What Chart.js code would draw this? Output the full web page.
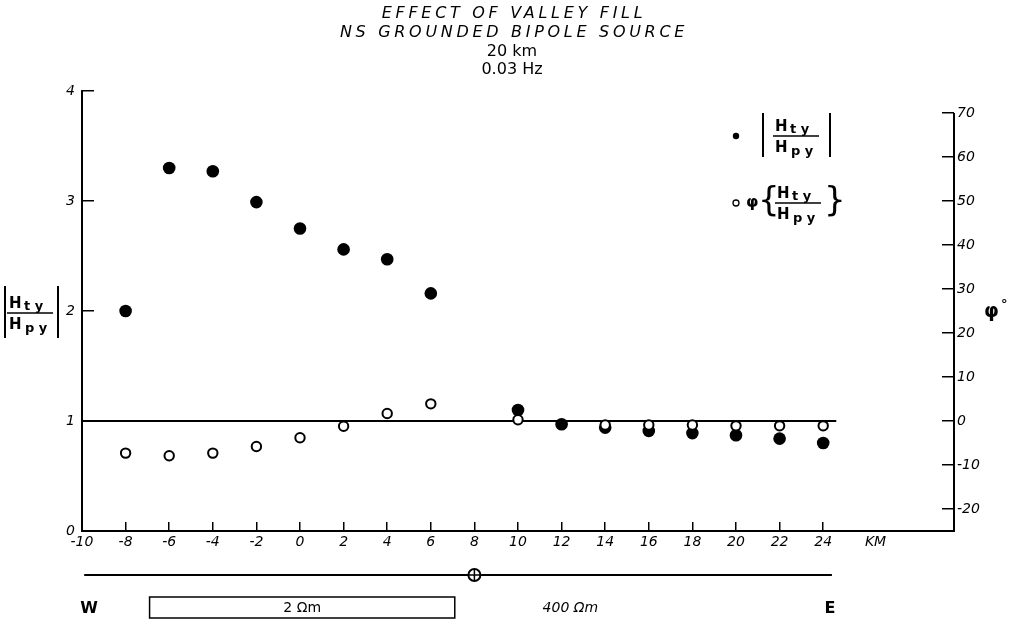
<!DOCTYPE html>
<html>
<head>
<meta charset="utf-8">
<script src="https://cdn.jsdelivr.net/npm/chart.js@4.4.1/dist/chart.umd.min.js"></script>
<style>
html,body{margin:0;padding:0;background:#fff;}
#wrap{width:1019px;height:625px;position:relative;}
</style>
</head>
<body>
<div id="wrap"><canvas id="c" width="1019" height="625"></canvas></div>
<script>
// ---- data ----
const titleLines = ['EFFECT OF VALLEY FILL', 'NS GROUNDED BIPOLE SOURCE', '20 km', '0.03 Hz'];
const distanceKm = [-8, -6, -4, -2, 0, 2, 4, 6, 10, 12, 14, 16, 18, 20, 22, 24];
const amplitudeRatio = [2.00, 3.30, 3.27, 2.99, 2.75, 2.56, 2.47, 2.16, 1.10, 0.97, 0.94, 0.91, 0.89, 0.87, 0.84, 0.80];
// phase at 12 km is hidden behind the amplitude point in the original
const phaseDeg = [-7.3, -7.9, -7.3, -5.8, -3.8, -1.2, 1.7, 3.9, 0.3, null, -0.9, -0.9, -0.9, -1.1, -1.1, -1.1];
const xTickValues = [-10, -8, -6, -4, -2, 0, 2, 4, 6, 8, 10, 12, 14, 16, 18, 20, 22, 24];
const xUnitLabel = 'KM';
const xUnitPos = 26.4;
const leftTickValues = [0, 1, 2, 3, 4];
const rightTickValues = [-20, -10, 0, 10, 20, 30, 40, 50, 60, 70];
const unityLineKm = [-10, 24.6];
const unityRatio = 1;
const sourceKm = 8;
const schematicKm = [-9.9, 24.4];
const valleyFillKm = [-6.9, 7.1];
const valleyLabel = '2 Ωm';
const hostLabel = '400 Ωm';
const hostLabelKm = 12.4;
const westLabel = 'W';
const eastLabel = 'E';

// ---- helpers ----
const BLACK = '#000';
function drawFraction(ctx, cx, cy) {
  ctx.save();
  ctx.fillStyle = BLACK; ctx.strokeStyle = BLACK;
  ctx.textBaseline = 'alphabetic';
  ctx.textAlign = 'left';
  const big = 'bold 15px "DejaVu Sans"', small = 'bold 13px "DejaVu Sans"';
  ctx.font = big; ctx.fillText('H', cx - 22, cy - 5);
  ctx.font = small; ctx.fillText('t y', cx - 7, cy - 3);
  ctx.font = big; ctx.fillText('H', cx - 22, cy + 16);
  ctx.font = small; ctx.fillText('p y', cx - 6, cy + 19);
  ctx.lineWidth = 1.5;
  ctx.beginPath(); ctx.moveTo(cx - 24, cy); ctx.lineTo(cx + 22, cy); ctx.stroke();
  ctx.restore();
}

const decorPlugin = {
  id: 'decor',
  afterDraw(chart) {
    const ctx = chart.ctx;
    const xs = chart.scales.x, yr = chart.scales.y2;
    const area = chart.chartArea;
    ctx.save();
    ctx.fillStyle = BLACK; ctx.strokeStyle = BLACK;

    // right axis line from top tick down to bottom
    ctx.lineWidth = 2;
    ctx.beginPath();
    ctx.moveTo(area.right, yr.getPixelForValue(rightTickValues[rightTickValues.length - 1]));
    ctx.lineTo(area.right, area.bottom + 1);
    ctx.stroke();

    // title
    ctx.textAlign = 'center';
    ctx.textBaseline = 'middle';
    const cx = 512;
    ctx.font = 'italic 16px "DejaVu Sans"';
    ctx.letterSpacing = '3.7px';
    ctx.fillText(titleLines[0], cx + 2, 14);
    ctx.fillText(titleLines[1], cx + 2, 33);
    ctx.letterSpacing = '0px';
    ctx.font = '16px "DejaVu Sans"';
    ctx.fillText(titleLines[2], cx, 52);
    ctx.fillText(titleLines[3], cx, 70);

    // left axis title |H_ty/H_py|
    const lx = 31, ly = 313;
    drawFraction(ctx, lx, ly);
    ctx.lineWidth = 2;
    ctx.beginPath();
    ctx.moveTo(5, ly - 27); ctx.lineTo(5, ly + 25);
    ctx.moveTo(58, ly - 27); ctx.lineTo(58, ly + 25);
    ctx.stroke();

    // right axis title
    ctx.textAlign = 'left';
    ctx.textBaseline = 'middle';
    ctx.font = 'bold 19px "DejaVu Sans"';
    ctx.fillText('φ', 984, 312);
    ctx.font = 'bold 13px "DejaVu Sans"';
    ctx.fillText('°', 1001, 305);

    // legend
    ctx.beginPath(); ctx.arc(736, 136, 3.2, 0, Math.PI * 2); ctx.fill();
    drawFraction(ctx, 797, 136);
    ctx.lineWidth = 2;
    ctx.beginPath();
    ctx.moveTo(763, 113); ctx.lineTo(763, 157);
    ctx.moveTo(830, 113); ctx.lineTo(830, 157);
    ctx.stroke();

    ctx.lineWidth = 1.3;
    ctx.beginPath(); ctx.arc(736, 203, 3, 0, Math.PI * 2); ctx.stroke();
    ctx.font = 'bold 16px "DejaVu Sans"';
    ctx.textAlign = 'left';
    ctx.fillText('φ', 746, 203);
    ctx.font = '34px "DejaVu Sans"';
    ctx.fillText('{', 758, 202);
    ctx.fillText('}', 824, 202);
    drawFraction(ctx, 799, 203);

    // schematic below axis
    const yLine = 575;
    ctx.lineWidth = 2;
    ctx.beginPath();
    ctx.moveTo(xs.getPixelForValue(schematicKm[0]), yLine);
    ctx.lineTo(xs.getPixelForValue(schematicKm[1]), yLine);
    ctx.stroke();
    const sx = xs.getPixelForValue(sourceKm);
    ctx.fillStyle = '#fff';
    ctx.beginPath(); ctx.arc(sx, yLine, 6, 0, Math.PI * 2); ctx.fill(); ctx.stroke();
    ctx.lineWidth = 1.5;
    ctx.beginPath();
    ctx.moveTo(sx, yLine - 6); ctx.lineTo(sx, yLine + 6);
    ctx.moveTo(sx - 6, yLine); ctx.lineTo(sx + 6, yLine);
    ctx.stroke();
    ctx.fillStyle = BLACK;

    const bx0 = xs.getPixelForValue(valleyFillKm[0]);
    const bx1 = xs.getPixelForValue(valleyFillKm[1]);
    ctx.lineWidth = 1.5;
    ctx.strokeRect(bx0, 597, bx1 - bx0, 21);
    ctx.textAlign = 'center';
    ctx.textBaseline = 'middle';
    ctx.font = '14px "DejaVu Sans"';
    ctx.fillText(valleyLabel, (bx0 + bx1) / 2, 608);
    ctx.font = 'italic 14px "DejaVu Sans"';
    ctx.fillText(hostLabel, xs.getPixelForValue(hostLabelKm), 608);
    ctx.font = 'bold 16px "DejaVu Sans"';
    ctx.fillText(westLabel, 89, 609);
    ctx.fillText(eastLabel, 830, 609);
    ctx.restore();
  }
};

const axisFont = { family: '"DejaVu Sans"', size: 14, style: 'italic' };

const chart = new Chart(document.getElementById('c'), {
  type: 'scatter',
  data: {
    datasets: [
      {
        label: 'unity',
        data: unityLineKm.map(x => ({ x, y: unityRatio })),
        showLine: true,
        borderColor: BLACK,
        borderWidth: 2,
        pointRadius: 0,
        yAxisID: 'y',
        order: 3
      },
      {
        label: '|Hty/Hpy|',
        data: distanceKm.map((x, i) => ({ x, y: amplitudeRatio[i] })),
        backgroundColor: BLACK,
        borderColor: BLACK,
        borderWidth: 0,
        pointRadius: 6.3,
        yAxisID: 'y',
        order: 2
      },
      {
        label: 'phase',
        data: distanceKm.map((x, i) => ({ x, y: phaseDeg[i] })),
        backgroundColor: '#fff',
        borderColor: BLACK,
        borderWidth: 2,
        pointRadius: 4.7,
        yAxisID: 'y2',
        order: 1
      }
    ]
  },
  options: {
    responsive: false,
    animation: false,
    devicePixelRatio: 1,
    layout: { padding: { top: 91, left: 0, right: 0, bottom: 0 } },
    plugins: { legend: { display: false }, title: { display: false }, tooltip: { enabled: false } },
    scales: {
      x: {
        type: 'linear',
        position: 'bottom',
        min: -10,
        max: 30,
        afterBuildTicks: s => { s.ticks = xTickValues.map(v => ({ value: v })).concat([{ value: xUnitPos }]); },
        afterFit: s => { s.height = 625 - 531; },
        ticks: {
          autoSkip: false,
          maxRotation: 0,
          color: BLACK,
          font: axisFont,
          padding: 12,
          callback: v => (v === xUnitPos ? xUnitLabel : String(v))
        },
        grid: {
          drawOnChartArea: false,
          tickLength: -9,
          lineWidth: 1.5,
          tickColor: c => (c.tick && c.tick.value === xUnitPos ? 'rgba(0,0,0,0)' : BLACK)
        },
        border: { display: true, color: BLACK, width: 2 }
      },
      y: {
        type: 'linear',
        position: 'left',
        min: 0,
        max: 4,
        afterBuildTicks: s => { s.ticks = leftTickValues.map(v => ({ value: v })); },
        afterFit: s => { s.width = 82; },
        ticks: { color: BLACK, font: axisFont, padding: 19 },
        grid: { drawOnChartArea: false, tickLength: -12, lineWidth: 1.5, tickColor: BLACK },
        border: { display: true, color: BLACK, width: 2 }
      },
      y2: {
        type: 'linear',
        position: 'right',
        min: -25,
        max: 75,
        afterBuildTicks: s => { s.ticks = rightTickValues.map(v => ({ value: v })); },
        afterFit: s => { s.width = 1019 - 954; },
        ticks: { color: BLACK, font: axisFont, padding: 15 },
        grid: { drawOnChartArea: false, tickLength: -12, lineWidth: 1.5, tickColor: BLACK },
        border: { display: false }
      }
    }
  },
  plugins: [decorPlugin]
});
</script>
</body>
</html>
